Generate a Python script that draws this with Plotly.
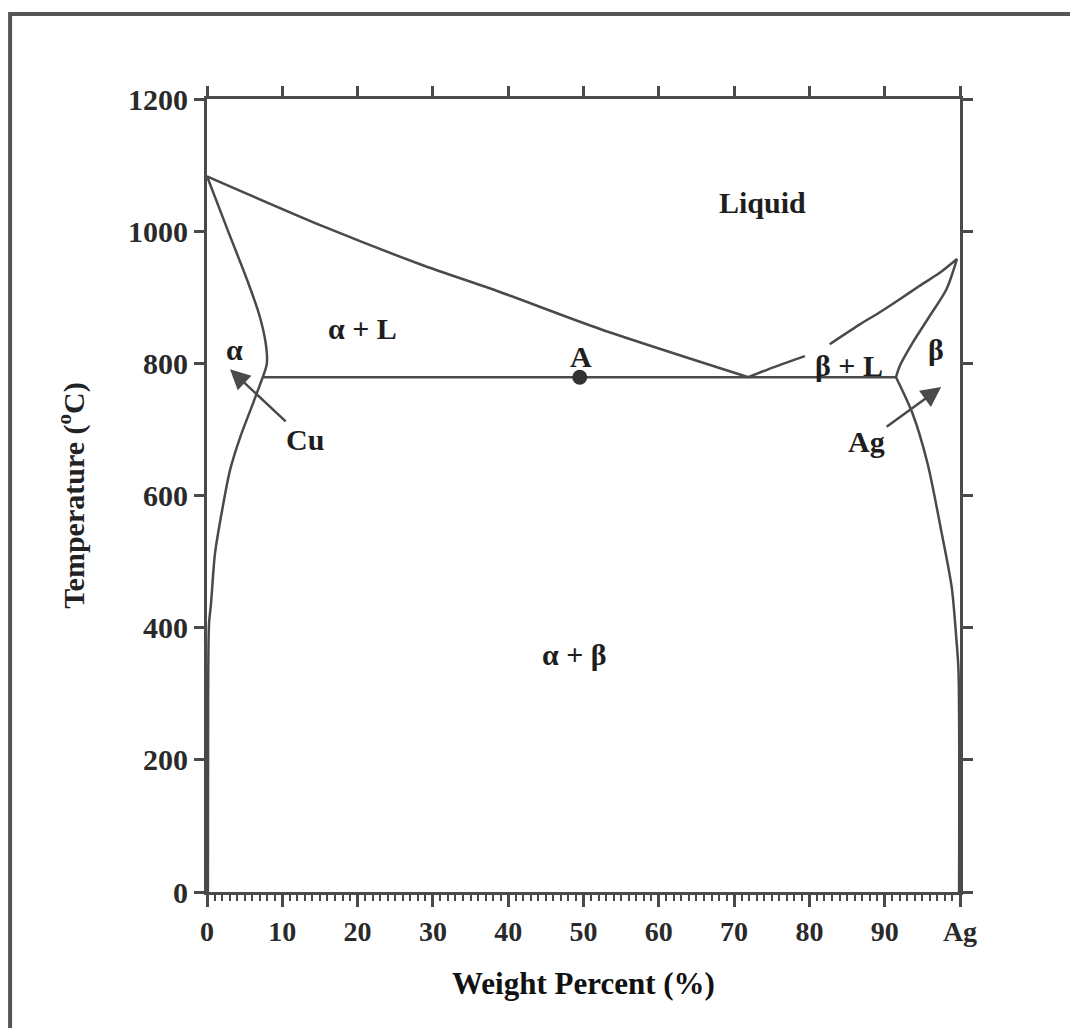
import plotly.graph_objects as go

# ---- data (wt% Ag, temperature degC) ----
liq_cu_x = [0, 15.7, 28.3, 38.9, 52.2, 71.9]
liq_cu_y = [1083, 1006, 950, 908, 852, 779]

sol_cu_x = [0, 2.8, 5.2, 6.9, 7.8, 7.95, 7.4]
sol_cu_y = [1083, 1000, 930, 875, 830, 800, 779]

solv_cu_x = [7.4, 6.1, 4.4, 3.05, 2.0, 1.06, 0.53, 0.27, 0.15, 0.12]
solv_cu_y = [779, 739, 688, 638, 577, 512, 436, 406, 290, 0]

eut_x = [7.4, 91.5]
eut_y = [779, 779]

liq_ag_x = [99.6, 97.3, 94.6, 92.0, 89.3, 86.7, 82.7, None, 79.4, 75.2, 71.9]
liq_ag_y = [958, 937, 917, 897, 877, 859, 829, None, 811, 794, 779]

sol_ag_x = [99.6, 98.2, 96.0, 93.7, 92.0, 91.5]
sol_ag_y = [958, 912, 872, 831, 796, 779]

solv_ag_x = [91.5, 93.7, 95.7, 97.5, 98.9, 99.5, 99.8, 99.88]
solv_ag_y = [779, 724, 648, 547, 461, 385, 335, 0]

point_a_x = [49.5]
point_a_y = [779]

x_ticks = [0, 10, 20, 30, 40, 50, 60, 70, 80, 90, 100]
x_tick_text = ["0", "10", "20", "30", "40", "50", "60", "70", "80", "90", "Ag"]
y_ticks = [0, 200, 400, 600, 800, 1000, 1200]

LINE = "#4a4a4a"
TXT = "#1e1e1e"
FONT = "Liberation Serif"

fig = go.Figure()

def curve(x, y, smooth=True):
    fig.add_trace(go.Scatter(
        x=x, y=y, mode="lines",
        line=dict(color=LINE, width=2.5, shape="spline" if smooth else "linear", smoothing=0.8),
        connectgaps=False, hoverinfo="skip"))

curve(liq_cu_x, liq_cu_y)
curve(sol_cu_x, sol_cu_y)
curve(solv_cu_x, solv_cu_y)
curve(eut_x, eut_y, smooth=False)
curve(liq_ag_x, liq_ag_y)
curve(sol_ag_x, sol_ag_y)
curve(solv_ag_x, solv_ag_y)

fig.add_trace(go.Scatter(x=point_a_x, y=point_a_y, mode="markers",
                         marker=dict(size=15, color="#333333"), hoverinfo="skip"))

# invisible trace to activate the top axis
fig.add_trace(go.Scatter(x=[0, 100], y=[0, 0], xaxis="x2", mode="markers",
                         marker=dict(opacity=0), hoverinfo="skip"))

def label(text, x, y, size=30):
    fig.add_annotation(x=x, y=y, text=text, showarrow=False,
                       font=dict(family=FONT, size=size, color=TXT, weight="bold"))

label("Liquid", 73.8, 1044)
label("α + L", 20.6, 852)
label("α", 3.7, 821)
label("A", 49.7, 811)
label("β + L", 85.3, 796)
label("β", 96.8, 821)
label("α + β", 48.8, 359)

for txt, tx, ty, hx, hy in [("Cu", 13.0, 685, 3.05, 791), ("Ag", 87.6, 682, 97.5, 764)]:
    fig.add_annotation(x=hx, y=hy, ax=tx, ay=ty, axref="x", ayref="y",
                       text=txt, showarrow=True, arrowhead=2, arrowsize=1.6,
                       arrowwidth=2.5, arrowcolor=LINE,
                       font=dict(family=FONT, size=30, color=TXT, weight="bold"))

# outer frame of the figure
fig.add_shape(type="path", xref="paper", yref="paper",
              path="M -0.2615 -0.5 L -0.2615 1.1072 L 1.6 1.1072",
              line=dict(color="#555555", width=4))

axis_common = dict(showgrid=False, zeroline=False, showline=True,
                   linecolor=LINE, linewidth=3, tickcolor=LINE)

fig.update_layout(
    width=1062, height=1020,
    margin=dict(l=199, r=109.5, t=91, b=136),
    plot_bgcolor="white", paper_bgcolor="white",
    showlegend=False,
    font=dict(family=FONT, color=TXT),
    xaxis=dict(range=[0, 100], tickmode="array", tickvals=x_ticks, ticktext=x_tick_text,
               ticks="outside", ticklen=12, tickwidth=2.5, ticklabelstandoff=0,
               tickfont=dict(family=FONT, size=28, color="#2a2a2a", weight="bold"),
               minor=dict(ticks="outside", dtick=1, tick0=0, ticklen=6, tickwidth=1.5, tickcolor=LINE),
               title=dict(text="Weight Percent (%)", standoff=27,
                          font=dict(family=FONT, size=31, color="#111111", weight="bold")),
               **axis_common),
    xaxis2=dict(range=[0, 100], overlaying="x", side="top", tickmode="array", tickvals=x_ticks,
                ticks="outside", ticklen=10, tickwidth=2.5, showticklabels=False,
                **axis_common),
    yaxis=dict(range=[0, 1200], tickmode="array", tickvals=y_ticks,
               ticks="outside", ticklen=10, tickwidth=2.5, mirror="ticks",
               tickfont=dict(family=FONT, size=30, color="#2a2a2a", weight="bold"),
               title=dict(text="Temperature (<sup>o</sup>C)", standoff=35,
                          font=dict(family=FONT, size=30, color="#222222", weight="bold")),
               **axis_common),
)

fig.write_html("out.html")
